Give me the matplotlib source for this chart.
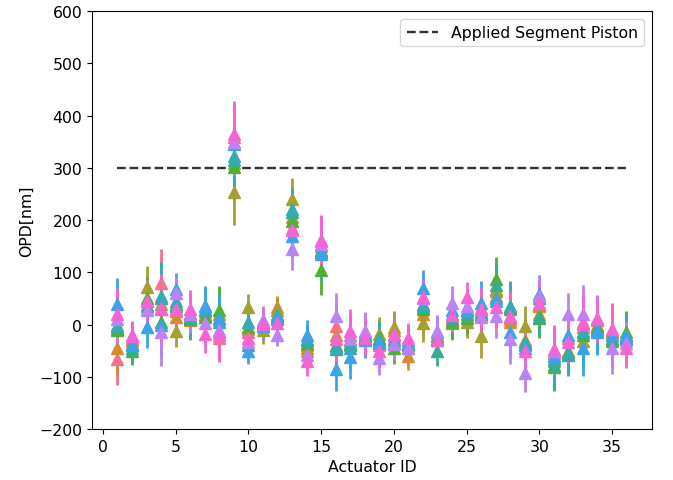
import numpy as np
import matplotlib
matplotlib.use("Agg")
import matplotlib.pyplot as plt
import seaborn as sns

# actuator IDs and the applied piston
actuator_ids = np.arange(1, 37)
applied_piston = 300

# measured OPD per run (nm), one list per run
run_red = [-66, -25, 38, 80, 25, 22, 20, -25, 358, -15, 0, 20, 185, -50, 160, -2, -20, -15,
           -40, -25, -40, 40, -20, 15, 30, 25, 55, 10, -40, 38, -55, -25, 5, 8, -10, -30]
run_orange = [-44, -30, 30, 30, 15, 8, 18, -15, 310, -8, -3, 33, 205, -45, 150, -20, -40, -25,
              -30, -10, -60, 20, -25, 8, 15, 18, 65, 4, -30, 35, -60, -50, -5, 0, -15, -25]
run_olive = [-8, -35, 72, 40, -13, 15, 35, 20, 253, 33, -10, 28, 240, -40, 140, -40, -35, -20,
             -18, -5, -45, 2, -22, 2, 5, -22, 68, 15, -2, 20, -70, -55, -31, -2, -25, -20]
run_green = [-10, -50, 50, 5, 35, 10, 14, 27, 301, -5, 5, 10, 198, -35, 105, -47, -30, -28,
             -25, -45, -40, 30, -28, 5, 12, 20, 88, 30, -35, 12, -82, -52, -20, -5, -31, -15]
run_seagreen = [-5, -45, 45, 50, 40, 12, 25, 12, 315, -40, 2, 15, 215, -30, 138, -42, -38, -22,
                -28, -35, -38, 33, -50, 10, 20, 22, 75, 33, -33, 15, -78, -58, -15, -8, -28, -20]
run_teal = [0, -40, 35, 55, 45, 18, 30, 5, 323, 4, 3, 18, 222, -28, 142, -44, -45, -18,
            -35, -30, -35, 38, -30, 20, 27, 32, 50, 36, -37, 50, -66, -56, -12, -10, -21, -25]
run_blue = [39, -38, -5, 0, 68, 20, 36, 10, 345, -50, -2, 12, 170, -20, 135, -85, -63, -30,
            -34, -20, -30, 70, -15, 27, 25, 42, 45, -15, -45, 58, -60, -21, -44, -15, -18, -22]
run_purple = [10, -20, 27, -15, 60, 20, 2, -10, 350, -33, 8, -20, 145, -58, 155, 17, -28, -12,
              -65, -38, -45, 50, -12, 42, 36, 14, 17, -28, -92, 55, -50, 20, 20, 12, -44, -35]
run_magenta = [20, -22, 45, 32, 30, 30, -18, -20, 365, -25, 1, 2, 180, -70, 162, -28, -12, -25,
               -50, -18, -25, 52, -30, 18, 52, 30, 33, 17, -50, 42, -47, -34, 1, 11, -9, -44]

# std of the OPD per actuator (nm)
opd_err = [50, 27, 40, 65, 30, 37, 37, 47, 63, 25, 27, 22, 40, 28, 48, 43, 41, 35,
           32, 30, 28, 35, 30, 32, 30, 42, 42, 48, 38, 37, 46, 40, 55, 44, 50, 40]

runs = [run_red, run_orange, run_olive, run_green, run_seagreen,
        run_teal, run_blue, run_purple, run_magenta]
colors = sns.color_palette("husl", len(runs))

plt.rcParams["font.size"] = 11.3

fig = plt.figure(figsize=(6.73, 4.81), dpi=100)
ax = fig.add_axes([0.1367, 0.106, 0.832, 0.869])

for vals, c in zip(runs, colors):
    ax.errorbar(actuator_ids, vals, yerr=opd_err, fmt="^", color=c,
                ms=8, elinewidth=2, capsize=0)

ax.plot([actuator_ids[0], actuator_ids[-1]], [applied_piston] * 2,
        ls="--", color="0.2", lw=1.7, label="Applied Segment Piston")

ax.set_ylim(-200, 600)
ax.set_xlim(-0.75, 37.75)
ax.set_xlabel("Actuator ID")
ax.set_ylabel("OPD[nm]")
ax.legend(loc="upper right")

fig.savefig("out.png", dpi=100)
